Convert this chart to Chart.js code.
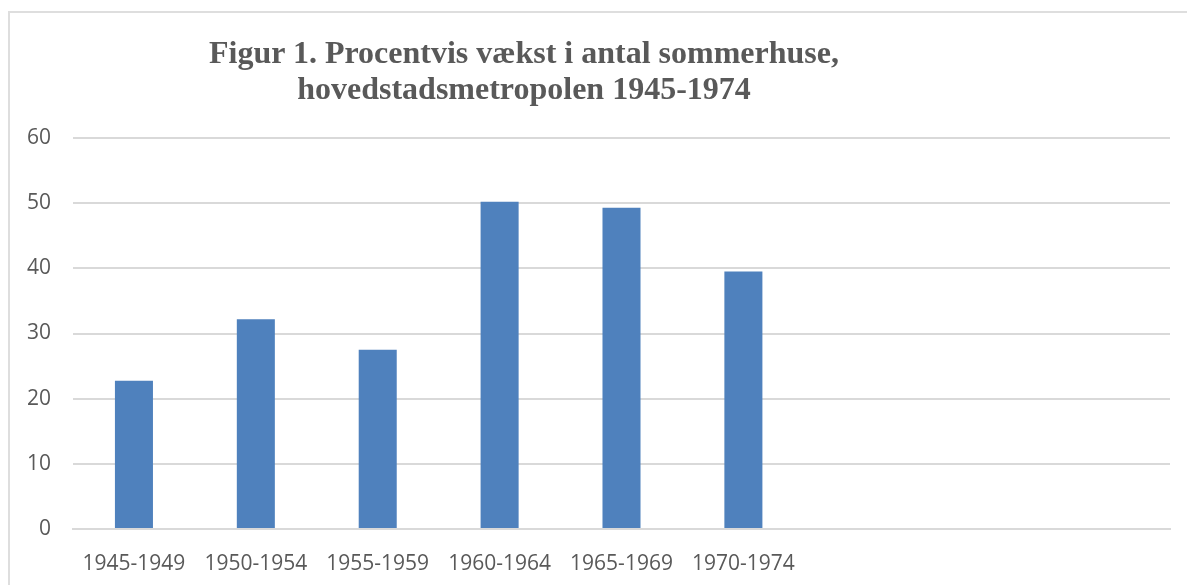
<!DOCTYPE html>
<html>
<head>
<meta charset="utf-8">
<script src="https://cdn.jsdelivr.net/npm/chart.js"></script>
<style>
  body { margin: 0; background: #fff; }
  #wrapper { position: relative; width: 1187px; height: 585px; overflow: hidden; }
  #frame { position: absolute; left: 8px; top: 11px; width: 1300px; height: 700px; border: 2px solid #dedede; }
  #chart-box { position: absolute; left: 0; top: 0; width: 1187px; height: 585px; }
  #chart-title {
    position: absolute; left: 0; top: 34px; width: 1048px;
    text-align: center; font-family: 'Liberation Serif', 'Times New Roman', serif;
    font-weight: bold; font-size: 32px; line-height: 36px; color: #595959;
  }
</style>
</head>
<body>
<div id="wrapper">
  <div id="frame"></div>
  <div id="chart-box"><canvas id="myChart"></canvas></div>
  <div id="chart-title">Figur 1. Procentvis vækst i antal sommerhuse,<br>hovedstadsmetropolen 1945-1974</div>
</div>
<script>
const periods = ['1945-1949', '1950-1954', '1955-1959', '1960-1964', '1965-1969', '1970-1974', '', '', ''];
const growthValues = [22.75, 32.2, 27.5, 50.2, 49.3, 39.5, null, null, null];
const yMin = 0;
const yMax = 60;
const yStep = 10;

const barColor = '#4f81bd';
const gridColor = '#d9d9d9';
const textColor = '#595959';

const ctx = document.getElementById('myChart');

const data = {
  labels: periods,
  datasets: [{
    label: 'Vækst',
    data: growthValues,
    backgroundColor: barColor,
    borderWidth: 0,
    barPercentage: 1,
    categoryPercentage: 0.312
  }]
};

const config = {
  type: 'bar',
  data: data,
  options: {
    responsive: true,
    maintainAspectRatio: false,
    animation: false,
    layout: {
      padding: { top: 138, right: 17, bottom: 0, left: 0 }
    },
    plugins: {
      legend: { display: false },
      tooltip: { enabled: false },
      title: { display: false }
    },
    scales: {
      x: {
        grid: { display: false, drawTicks: false },
        border: { display: true, color: gridColor, width: 2 },
        ticks: {
          color: textColor,
          font: { family: 'Open Sans', size: 21 },
          padding: 22,
          maxRotation: 0,
          autoSkip: false
        },
        afterFit: function(scale) { scale.height = 56; }
      },
      y: {
        min: yMin,
        max: yMax,
        grid: { color: gridColor, lineWidth: 2, drawTicks: false },
        border: { display: false },
        ticks: {
          stepSize: yStep,
          color: textColor,
          font: { family: 'Open Sans', size: 21 },
          padding: 22
        },
        afterFit: function(scale) { scale.width = 73; }
      }
    }
  }
};

new Chart(ctx, config);
</script>
</body>
</html>
